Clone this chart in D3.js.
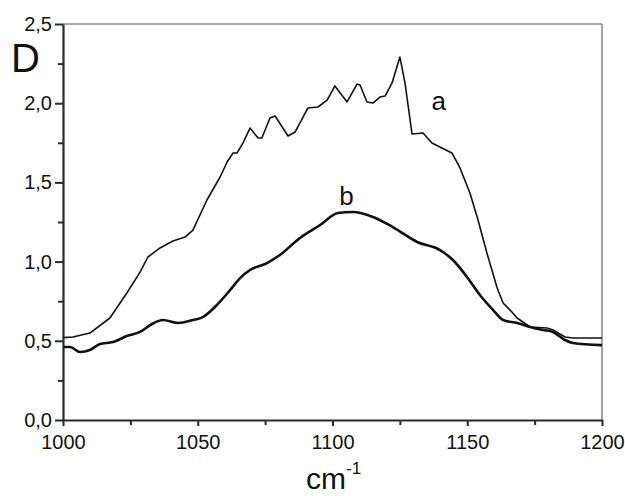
<!DOCTYPE html>
<html>
<head>
<meta charset="utf-8">
<script src="https://cdn.jsdelivr.net/npm/d3@7"></script>
<style>
  body { margin: 0; background: #fff; }
  text { font-family: "Liberation Sans", Arial, sans-serif; fill: #111; }
</style>
</head>
<body>
<div id="chart"></div>
<script>
const w = 625,
    h = 496;
const margin = {top: 24, right: 23, bottom: 76, left: 63};

// curve a (thin)
const waveA = [1000, 1003.7, 1010, 1017.4, 1023.7, 1028.6, 1031.5, 1036, 1040.8, 1045.3, 1048.2, 1053.4,
    1058.3, 1060.9, 1063.1, 1064.6, 1066.8, 1069.4, 1072.4, 1073.8, 1076.8, 1078.7, 1083.5, 1086.1,
    1090.9, 1094.6, 1098, 1100.9, 1105.4, 1109.1, 1110.2, 1112.8, 1115, 1117.6, 1119.5, 1122.1,
    1125, 1126.9, 1129.5, 1133.6, 1136.9, 1140.6, 1144.3, 1147.3, 1151, 1154, 1157.3, 1161.1,
    1163.3, 1165.9, 1168.5, 1173.3, 1179.6, 1181.8, 1186.3, 1189.2, 1200];
const absA = [0.52, 0.524, 0.549, 0.644, 0.802, 0.934, 1.029, 1.086, 1.13, 1.155, 1.199, 1.389,
    1.534, 1.629, 1.686, 1.686, 1.749, 1.843, 1.78, 1.78, 1.907, 1.919, 1.793, 1.818,
    1.97, 1.976, 2.02, 2.109, 2.008, 2.121, 2.115, 2.008, 2.001, 2.039, 2.045, 2.128,
    2.292, 2.128, 1.806, 1.812, 1.749, 1.717, 1.686, 1.591, 1.433, 1.263, 1.054, 0.833,
    0.739, 0.694, 0.644, 0.587, 0.581, 0.568, 0.524, 0.518, 0.518];

// curve b (thick)
const waveB = [1000, 1002.6, 1006.3, 1010, 1013.7, 1018.6, 1023.7, 1028.6, 1033, 1037.1, 1042.7, 1048.2,
    1051.9, 1057.1, 1062, 1065.7, 1069.4, 1075.7, 1080.5, 1087.9, 1095.4, 1102, 1107.6, 1115,
    1122.4, 1131.4, 1139.9, 1144.7, 1149.9, 1154.7, 1159.6, 1163.3, 1168.5, 1173.3, 1178.1,
    1181.8, 1186.3, 1189.2, 1200];
const absB = [0.461, 0.461, 0.429, 0.442, 0.48, 0.492, 0.53, 0.556, 0.606, 0.631, 0.612, 0.631,
    0.65, 0.726, 0.82, 0.896, 0.947, 0.991, 1.042, 1.149, 1.231, 1.307, 1.313, 1.282,
    1.218, 1.124, 1.073, 1.01, 0.903, 0.789, 0.694, 0.631, 0.612, 0.587, 0.568,
    0.556, 0.505, 0.486, 0.473];

const xTicks = [1000, 1050, 1100, 1150, 1200];
const xMinor = [1025, 1075, 1125, 1175];
const yTicks = [0, 0.5, 1.0, 1.5, 2.0, 2.5];
const yMinor = [0.25, 0.75, 1.25, 1.75, 2.25];

const svg = d3.select("#chart")
    .append("svg")
    .attr("width", w)
    .attr("height", h);

const xScale = d3.scaleLinear()
    .domain([1000, 1200])
    .range([margin.left, w - margin.right]);

const yScale = d3.scaleLinear()
    .domain([0, 2.5])
    .range([h - margin.bottom, margin.top]);

const fmt = d => d3.format(".1f")(d).replace(".", ",");

// top and right frame (grey)
svg.append("line")
    .attr("x1", xScale(1000)).attr("x2", xScale(1200))
    .attr("y1", yScale(2.5)).attr("y2", yScale(2.5))
    .attr("stroke", "#8a8a8a").attr("stroke-width", 1.6);
svg.append("line")
    .attr("x1", xScale(1200)).attr("x2", xScale(1200))
    .attr("y1", yScale(2.5)).attr("y2", yScale(0))
    .attr("stroke", "#8a8a8a").attr("stroke-width", 1.6);

// axes
const xAxis = svg.append("g")
    .attr("transform", "translate(0," + yScale(0) + ")")
    .call(d3.axisBottom(xScale).tickValues(xTicks).tickSize(6).tickSizeOuter(0).tickPadding(9).tickFormat(d3.format("d")));
svg.append("g")
    .attr("transform", "translate(0," + yScale(0) + ")")
    .call(d3.axisBottom(xScale).tickValues(xMinor).tickSize(5).tickFormat(""))
    .select(".domain").remove();

const yAxis = svg.append("g")
    .attr("transform", "translate(" + xScale(1000) + ",0)")
    .call(d3.axisLeft(yScale).tickValues(yTicks).tickSize(8).tickSizeOuter(0).tickPadding(3).tickFormat(fmt));
svg.append("g")
    .attr("transform", "translate(" + xScale(1000) + ",0)")
    .call(d3.axisLeft(yScale).tickValues(yMinor).tickSize(5).tickFormat(""))
    .select(".domain").remove();

svg.selectAll(".domain").attr("stroke", "#2a2a2a").attr("stroke-width", 2.2);
svg.selectAll(".tick line").attr("stroke", "#2a2a2a").attr("stroke-width", 2);
xAxis.selectAll(".tick text").style("font-size", "20px").attr("fill", "#111");
yAxis.selectAll(".tick text").style("font-size", "20px").attr("fill", "#111");

// lines
const line = d3.line()
    .x(function (d) { return xScale(d[0]) })
    .y(function (d) { return yScale(d[1]) });

svg.append("path")
    .datum(d3.zip(waveA, absA))
    .attr("d", line)
    .attr("fill", "none")
    .attr("stroke", "#111")
    .attr("stroke-width", 1.6)
    .attr("stroke-linejoin", "round");

svg.append("path")
    .datum(d3.zip(waveB, absB))
    .attr("d", line.curve(d3.curveMonotoneX))
    .attr("fill", "none")
    .attr("stroke", "#111")
    .attr("stroke-width", 2.6)
    .attr("stroke-linejoin", "round");

// labels
svg.append("text")
    .attr("x", xScale(1136.7)).attr("y", yScale(1.957))
    .style("font-size", "26px")
    .text("a");
svg.append("text")
    .attr("x", xScale(1102.5)).attr("y", yScale(1.357))
    .style("font-size", "26px")
    .text("b");

svg.append("text")
    .attr("x", 11).attr("y", 72)
    .style("font-size", "40px")
    .text("D");

const xl = svg.append("text")
    .attr("x", 306).attr("y", 489)
    .style("font-size", "30px");
xl.append("tspan").text("cm");
xl.append("tspan").attr("dy", -15).style("font-size", "17px").text("-1");
</script>
</body>
</html>
